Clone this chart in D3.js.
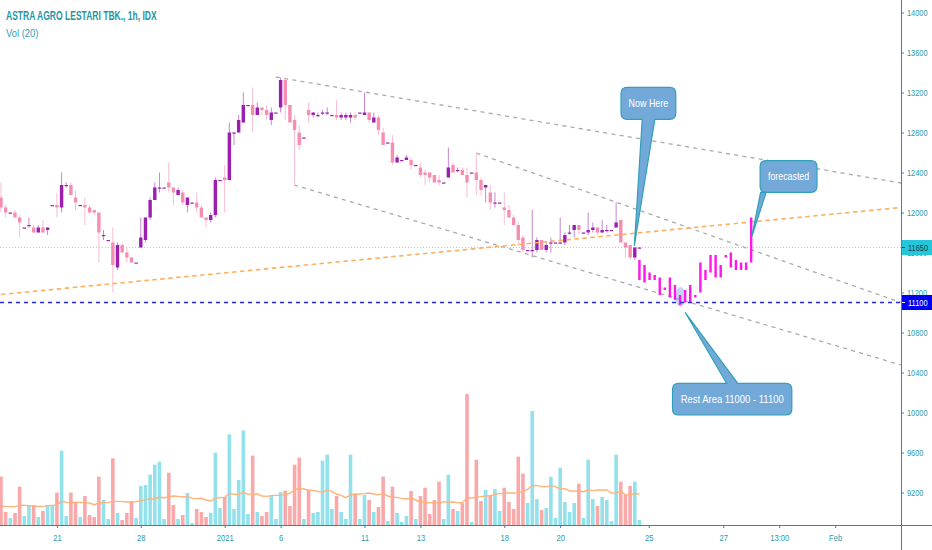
<!DOCTYPE html>
<html>
<head>
<meta charset="utf-8">
<title>ASTRA AGRO LESTARI TBK., 1h, IDX</title>
<script src="https://cdnjs.cloudflare.com/ajax/libs/d3/7.8.5/d3.min.js"></script>
<style>
  html, body { margin: 0; padding: 0; background: #fff; }
  svg { display: block; }
  text { font-family: "Liberation Sans", sans-serif; }
</style>
</head>
<body>
<svg id="chart"></svg>
<script>
var opens = [12150,12050,12000,12000,11950,11850,11875,11850,11800,11850,11825,12075,12075,12050,12275,12275,12150,12075,12075,12050,12025,12000,11775,11725,11700,11450,11675,11600,11550,11500,
  11650,11725,11950,12125,12250,12250,12300,12250,12175,12200,12075,12100,12100,12050,11950,11925,11975,12325,12350,12325,12800,12800,12900,13075,13075,12975,13050,13025,12925,13000,
  13050,13325,13075,12925,12800,12750,13025,12975,12975,13000,13000,12975,12975,12950,12950,12950,12975,13000,12975,13000,12900,12950,12800,12700,12700,12500,12525,12525,12525,12475,
  12450,12400,12400,12375,12325,12300,12350,12475,12425,12425,12375,12400,12400,12325,12250,12200,12100,12100,12050,12025,11950,11875,11750,11625,11625,11625,11725,11625,11700,11700,
  11700,11700,11800,11825,11875,11800,11800,11825,11850,11800,11825,11825,11850,11925,11700,11675,11550,11650];
var closes = [12050,12000,12000,11950,11900,11850,11875,11800,11850,11800,11850,12075,12050,12275,12275,12175,12100,12075,12050,12000,12000,11800,11775,11725,11475,11675,11600,11550,11500,11500,
  11750,11950,12125,12250,12250,12250,12250,12200,12225,12100,12150,12100,12050,11950,11925,11975,12325,12325,12325,12800,12800,12925,13075,13075,12975,13050,13025,12975,13000,13000,
  13325,13075,12900,12825,12675,12750,12975,13000,12975,13000,13000,12975,12950,12975,12975,12975,12950,13000,13000,12925,12950,12825,12675,12700,12500,12550,12525,12550,12475,12475,
  12375,12375,12350,12300,12300,12300,12450,12400,12425,12375,12300,12400,12325,12225,12275,12100,12100,12100,12025,11950,11875,11725,11625,11625,11625,11725,11625,11675,11700,11700,
  11700,11775,11800,11875,11825,11800,11825,11850,11800,11825,11825,11825,11900,11700,11650,11550,11650,11650];
var highs = [12300,12075,12000,12025,11975,11850,11950,11875,11875,11925,11850,12075,12200,12400,12300,12300,12225,12075,12150,12075,12025,12000,11825,11725,11850,11700,11700,11650,11550,11500,
  11950,11950,12150,12300,12400,12250,12500,12250,12250,12225,12150,12100,12200,12075,11950,12000,12350,12325,12475,12900,12800,12975,13200,13075,13250,13100,13050,13075,13050,13000,
  13350,13350,13075,12975,12875,12750,13100,13000,13000,13025,13050,12975,13125,13000,13000,13000,13000,13000,13200,13000,13000,12975,12850,12700,12775,12575,12525,12575,12550,12475,
  12500,12425,12400,12375,12375,12300,12650,12500,12450,12450,12450,12400,12600,12350,12275,12275,12200,12100,12200,12075,11975,11900,11775,11625,12025,11750,11725,11700,11750,11700,
  11950,11800,11875,11875,11875,11800,12000,11900,11850,11925,11875,11825,12100,11925,11700,11675,11650,11650];
var lows = [12000,11950,12000,11950,11750,11850,11850,11800,11800,11800,11775,12075,11950,12000,12250,12175,12025,12075,11875,12000,11975,11500,11725,11725,11200,11425,11600,11500,11500,11500,
  11650,11700,11925,12125,12200,12250,12200,12075,12175,12075,12000,12100,12000,11950,11850,11900,11950,12325,12000,12325,12675,12800,12900,13075,12800,12975,12975,12925,12875,13000,
  13000,12925,12900,12275,12625,12750,12900,12950,12950,12975,12975,12975,12925,12925,12925,12900,12925,13000,12975,12900,12900,12775,12675,12700,12475,12500,12525,12525,12425,12475,
  12350,12275,12300,12300,12275,12300,12350,12400,12400,12375,12150,12400,12175,12175,12100,12025,12050,12100,11875,11950,11875,11675,11600,11625,11550,11600,11625,11600,11600,11700,
  11700,11675,11775,11750,11785,11800,11775,11800,11775,11800,11800,11825,11850,11700,11550,11525,11525,11650];
var volumes = [145,39,21,36,115,27,60,60,24,42,60,60,97,223,27,97,67,24,87,30,24,145,75,18,200,36,15,36,72,21,
  117,120,151,181,190,18,157,60,18,30,96,6,48,39,24,36,217,51,84,272,48,135,284,33,208,39,27,39,90,18,
  99,103,57,181,202,18,105,36,39,193,211,48,87,39,18,211,93,18,90,75,39,54,145,12,115,36,9,27,102,18,
  87,112,33,75,130,18,151,48,42,65,393,9,196,72,105,90,108,42,112,69,48,205,154,66,342,78,45,51,145,21,
  172,69,39,66,124,21,196,78,57,84,75,12,211,130,90,117,130,15];
var volumeMA = [57,56,55,55,60,59,58,57,56,56,58,59,60,72,68,67,68,68,67,66,61,66,67,68,71,71,70,69,69,70,
  73,76,78,78,84,81,85,87,86,84,85,80,79,80,75,72,80,82,83,95,92,92,98,92,93,93,87,86,88,89,
  89,91,95,105,110,108,105,103,101,98,104,101,93,89,82,90,93,93,94,96,93,91,94,87,83,83,80,78,80,75,
  69,67,67,68,65,70,68,69,67,67,81,81,83,85,87,88,92,94,95,96,96,97,101,107,118,119,115,115,118,115,
  108,109,102,102,102,100,105,103,105,105,105,95,97,101,91,90,94,93];

// drawn forecast, the idea author's bars start at the last real candle
var forecastHighs = [11525,11475,11400,11375,11350,11250,11350,11275,11175,11225,11275,11175,11500,11425,11575,11575,11475,11575,11600,11525,11500,11500,11950];
var forecastLows = [11325,11300,11325,11325,11175,11225,11150,11125,11075,11100,11100,11150,11200,11325,11400,11350,11350,11550,11450,11425,11425,11425,11500];
var forecastStart = 137, forecastStep = 1.09;

var priceTicks = [14000,13600,13200,12800,12400,12000,11600,11200,10800,10400,10000,9600,9200];
var timeTickBars = [12,30,48,60,78,90,108,120,139,155,167,179];
var timeTickLabels = ["21","28","2021","6","11","13","18","20","25","27","13:00","Feb"];

var lastPrice = 11650, restLevel = 11100;
var lastBar = 193.13;

// [bar1, price1, bar2, price2]
var grayLines = [[59,13355,lastBar,12295],[62.9,12275,lastBar,10475],[102,12595,lastBar,11100]];
var orangeLine = [0,11180,lastBar,12050];

var callouts = [
  {label: "Now Here", box: [133.05,13252,144.8,12932], base: [137.6,140.3], tip: [135.9,11665], squeeze: 0.85},
  {label: "forecasted", box: [162.9,12518,175.1,12202], base: [163,164.2], tip: [161.1,11758], squeeze: 0.84},
  {label: "Rest Area 11000 - 11100", box: [144.1,10292,169.7,9975], base: [155.7,158.1], tip: [146.8,11002], squeeze: 0.9}
];

var width = 932, height = 550,
  axisX = 901, volBase = 525,
  textColor = "#2b9bab", axisColor = "#2f7fd6",
  upColor = "#9c1fb0", downColor = "#f58fb2",
  upWick = "#c586d4", downWick = "#f9bdd2";

var svg = d3.select("#chart").attr("width", width).attr("height", height);

var x = d3.scaleLinear().domain([0, lastBar]).range([1, axisX]);
var y = d3.scaleLinear().domain([14000, 9200]).range([12.5, 492.5]);
var yVol = d3.scaleLinear().domain([0, 393]).range([volBase, 394]);

var bars = d3.range(opens.length);
function isUp(i) { return closes[i] >= opens[i]; }

// The original face is narrower than anything installed
function squeeze(sel, factor) {
  sel.each(function() {
    var f = typeof factor === "function" ? factor.apply(this, arguments) : factor;
    d3.select(this)
      .attr("textLength", this.getComputedTextLength() * f)
      .attr("lengthAdjust", "spacingAndGlyphs");
  });
}

// Volume
svg.append("g").selectAll("rect")
  .data(bars)
  .enter().append("rect")
  .attr("x", function(i) { return x(i) - 1.8; })
  .attr("width", 3.6)
  .attr("y", function(i) { return yVol(volumes[i]); })
  .attr("height", function(i) { return volBase - yVol(volumes[i]); })
  .attr("fill", function(i) { return isUp(i) ? "#93e1eb" : "#f9a9a9"; });

svg.append("path")
  .datum(bars)
  .attr("fill", "none")
  .attr("stroke", "#ffb27a")
  .attr("stroke-width", 1.4)
  .attr("d", d3.line().x(function(i) { return x(i); }).y(function(i) { return yVol(volumeMA[i]); }));

// Level lines
svg.append("line")
  .attr("x1", 0).attr("x2", axisX)
  .attr("y1", y(lastPrice)).attr("y2", y(lastPrice))
  .attr("stroke", "#7fe0e6").attr("stroke-dasharray", "1,2");

svg.append("g").selectAll("line")
  .data(grayLines)
  .enter().append("line")
  .attr("x1", function(d) { return x(d[0]); })
  .attr("y1", function(d) { return y(d[1]); })
  .attr("x2", function(d) { return x(d[2]); })
  .attr("y2", function(d) { return y(d[3]); })
  .attr("stroke", "#aaaaaa")
  .attr("stroke-width", 1.3)
  .attr("stroke-dasharray", "4,4.3");

// Candles
var candles = svg.append("g").selectAll("g")
  .data(bars)
  .enter().append("g");

candles.append("line")
  .attr("x1", function(i) { return x(i); })
  .attr("x2", function(i) { return x(i); })
  .attr("y1", function(i) { return y(highs[i]); })
  .attr("y2", function(i) { return y(lows[i]); })
  .attr("stroke", function(i) { return isUp(i) ? upWick : downWick; });

candles.append("rect")
  .attr("x", function(i) { return x(i) - 1.7; })
  .attr("width", 3.4)
  .attr("y", function(i) { return y(Math.max(opens[i], closes[i])); })
  .attr("height", function(i) { return Math.max(1.2, Math.abs(y(opens[i]) - y(closes[i]))); })
  .attr("fill", function(i) { return isUp(i) ? upColor : downColor; });

// Highlight on the low
svg.append("ellipse")
  .attr("cx", x(145.8)).attr("cy", y(11155))
  .attr("rx", 5.2).attr("ry", 10)
  .attr("fill", "#7da6e6").attr("fill-opacity", 0.45);

svg.append("line")
  .attr("x1", x(orangeLine[0])).attr("y1", y(orangeLine[1]))
  .attr("x2", x(orangeLine[2])).attr("y2", y(orangeLine[3]))
  .attr("stroke", "#ffae5c").attr("stroke-width", 1.6)
  .attr("stroke-dasharray", "4.5,3.5");

// Forecast bars
svg.append("g").selectAll("rect")
  .data(forecastHighs)
  .enter().append("rect")
  .attr("x", function(d, k) { return x(forecastStart + k * forecastStep) - 1.2; })
  .attr("width", 2.4)
  .attr("y", function(d) { return y(d); })
  .attr("height", function(d, k) { return y(forecastLows[k]) - y(d); })
  .attr("fill", "#ff16e8");

svg.append("line")
  .attr("x1", 0).attr("x2", axisX)
  .attr("y1", y(restLevel)).attr("y2", y(restLevel))
  .attr("stroke", "#2a2ae6").attr("stroke-width", 1.6)
  .attr("stroke-dasharray", "4,4");

// Callouts
function calloutPath(d) {
  var l = x(d.box[0]), t = y(d.box[1]), r = x(d.box[2]), b = y(d.box[3]), c = 6;
  var b0 = x(d.base[0]), b1 = x(d.base[1]), tx = x(d.tip[0]), ty = y(d.tip[1]);
  var p = d3.path();
  p.moveTo(l + c, t);
  if (ty < t) {
    p.lineTo(b0, t); p.lineTo(tx, ty); p.lineTo(b1, t);
  }
  p.lineTo(r - c, t);
  p.quadraticCurveTo(r, t, r, t + c);
  p.lineTo(r, b - c);
  p.quadraticCurveTo(r, b, r - c, b);
  if (ty > b) {
    p.lineTo(b1, b); p.lineTo(tx, ty); p.lineTo(b0, b);
  }
  p.lineTo(l + c, b);
  p.quadraticCurveTo(l, b, l, b - c);
  p.lineTo(l, t + c);
  p.quadraticCurveTo(l, t, l + c, t);
  p.closePath();
  return p.toString();
}

var notes = svg.append("g").selectAll("g")
  .data(callouts)
  .enter().append("g");

notes.append("path")
  .attr("d", calloutPath)
  .attr("fill", "#73a9d9")
  .attr("stroke", "#2fa0b8")
  .attr("stroke-width", 1.2);

notes.append("text")
  .attr("x", function(d) { return (x(d.box[0]) + x(d.box[2])) / 2; })
  .attr("y", function(d) { return (y(d.box[1]) + y(d.box[3])) / 2 + 3.5; })
  .attr("text-anchor", "middle")
  .attr("font-size", 10.5)
  .attr("fill", "#fff")
  .text(function(d) { return d.label; })
  .call(squeeze, function(d) { return d.squeeze; });

// Axes
var priceAxis = d3.axisRight(y).tickValues(priceTicks).tickSize(3).tickPadding(3).tickFormat(d3.format("d"));
var gPrice = svg.append("g").attr("transform", "translate(" + axisX + ",0)").call(priceAxis);
gPrice.select(".domain").remove();
gPrice.selectAll("line").attr("stroke", axisColor);
gPrice.selectAll("text").attr("fill", textColor).attr("font-size", 9.5).attr("font-family", null).call(squeeze, 0.78);

var timeAxis = d3.axisBottom(x).tickValues(timeTickBars).tickSize(3).tickPadding(6)
  .tickFormat(function(d, k) { return timeTickLabels[k]; });
var gTime = svg.append("g").attr("transform", "translate(0," + volBase + ")").call(timeAxis);
gTime.select(".domain").remove();
gTime.selectAll("line").attr("stroke", axisColor);
gTime.selectAll("text").attr("fill", textColor).attr("font-size", 9.5).attr("font-family", null).call(squeeze, 0.8);

svg.append("line").attr("x1", 0).attr("x2", width).attr("y1", volBase + 0.5).attr("y2", volBase + 0.5)
  .attr("stroke", axisColor).attr("stroke-width", 1);
svg.append("line").attr("x1", axisX + 0.5).attr("x2", axisX + 0.5).attr("y1", 0).attr("y2", height)
  .attr("stroke", axisColor).attr("stroke-width", 1);

// Price labels
var priceLabels = [
  {value: lastPrice, bg: "#26c6da", fg: "#13404a"},
  {value: restLevel, bg: "#0000f0", fg: "#fff"}
];
var tags = svg.append("g").selectAll("g")
  .data(priceLabels)
  .enter().append("g")
  .attr("transform", function(d) { return "translate(" + axisX + "," + y(d.value) + ")"; });
tags.append("rect")
  .attr("x", 1).attr("y", -7.5)
  .attr("width", width - axisX).attr("height", 15)
  .attr("fill", function(d) { return d.bg; });
tags.append("line")
  .attr("x1", 1).attr("x2", 4)
  .attr("stroke", function(d) { return d.fg; });
tags.append("text")
  .attr("x", 7).attr("y", 3.5)
  .attr("font-size", 9.5)
  .attr("fill", function(d) { return d.fg; })
  .text(function(d) { return d.value; })
  .call(squeeze, 0.78);

// Titles
svg.append("text")
  .attr("x", 6).attr("y", 20)
  .attr("font-size", 12).attr("font-weight", "bold")
  .attr("fill", "#2596a6")
  .text("ASTRA AGRO LESTARI TBK., 1h, IDX")
  .call(squeeze, 0.71);
svg.append("text")
  .attr("x", 6).attr("y", 37)
  .attr("font-size", 11.5)
  .attr("fill", "#2f9fb0")
  .text("Vol (20)")
  .call(squeeze, 0.82);
</script>
</body>
</html>
